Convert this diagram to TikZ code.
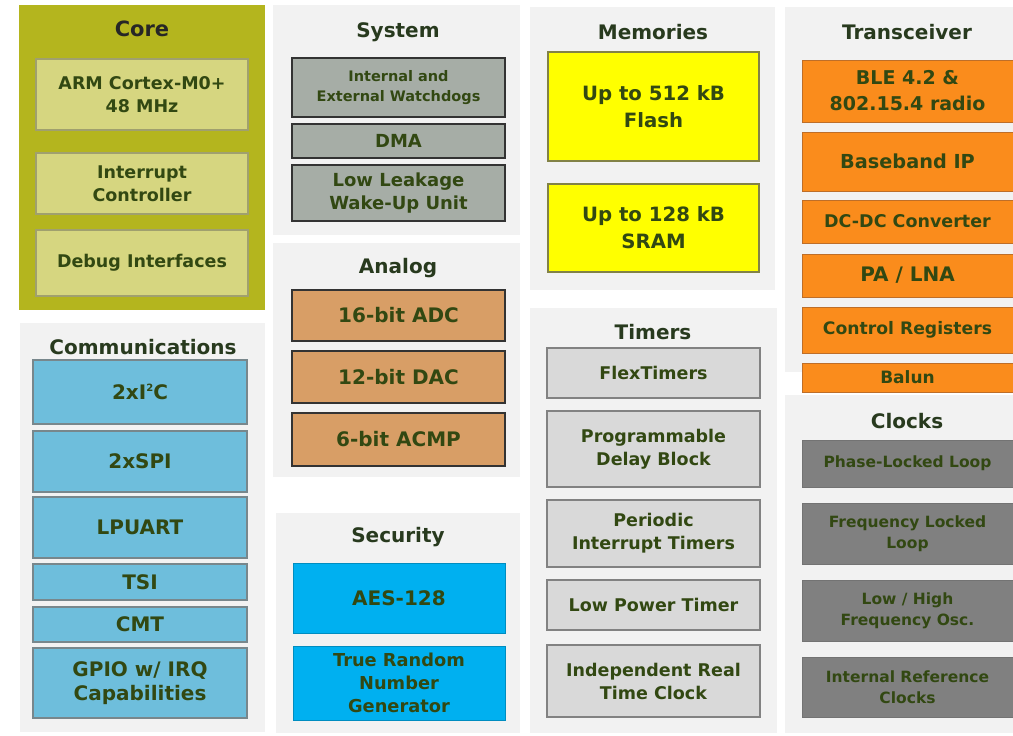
\documentclass[tikz,border=0pt]{standalone}
\usepackage{fontspec}
\setmainfont{DejaVu Sans}
\definecolor{panelbg}{RGB}{242,242,242}
\definecolor{coreolive}{RGB}{180,181,30}
\definecolor{corebox}{RGB}{214,214,128}
\definecolor{coreline}{RGB}{160,160,110}
\definecolor{sysbox}{RGB}{166,173,166}
\definecolor{memyellow}{RGB}{255,255,0}
\definecolor{memline}{RGB}{130,130,70}
\definecolor{trxorange}{RGB}{250,140,28}
\definecolor{trxline}{RGB}{190,110,40}
\definecolor{commblue}{RGB}{110,190,220}
\definecolor{commline}{RGB}{120,135,140}
\definecolor{anatan}{RGB}{216,158,102}
\definecolor{secblue}{RGB}{0,176,240}
\definecolor{timgray}{RGB}{217,217,217}
\definecolor{timline}{RGB}{130,130,130}
\definecolor{clkgray}{RGB}{128,128,128}
\definecolor{txtgreen}{RGB}{50,72,18}
\definecolor{titlegreen}{RGB}{40,58,30}
\tikzset{
  fs/.style args={#1/#2}{font=\bfseries\fontsize{#1}{#2}\selectfont},
  panelbox/.style={rectangle, draw=none, inner sep=0pt, outer sep=0pt},
  blockbase/.style={rectangle, inner sep=2pt, outer sep=0pt, align=center,
    text=txtgreen, fs=17.5/23},
  coreblk/.style={blockbase, fill=corebox, draw=coreline, line width=1.5pt},
  sysblk/.style={blockbase, fill=sysbox, draw=black!80, line width=2pt, fs=18/23},
  memblk/.style={blockbase, fill=memyellow, draw=memline, line width=1.5pt, fs=19.7/27},
  trxblk/.style={blockbase, fill=trxorange, draw=trxline, line width=1pt},
  commblk/.style={blockbase, fill=commblue, draw=commline, line width=1.5pt, fs=20/24},
  anablk/.style={blockbase, fill=anatan, draw=black!80, line width=2pt, fs=20/24},
  secblk/.style={blockbase, fill=secblue, draw=secblue!80!black, line width=0.8pt},
  timblk/.style={blockbase, fill=timgray, draw=timline, line width=1.5pt},
  clkblk/.style={blockbase, fill=clkgray, draw=clkgray!90!black, line width=0.8pt, fs=15.5/21},
  title/.style={text=titlegreen, fs=20/22}
}
% panel: name, x1, y1, x2, y2, fill
\newcommand\panel[6]{%
  \node[panelbox, fill=#6, minimum width={#4-#2}, minimum height={#5-#3}]
    (#1) at ({(#2+#4)/2},{(#3+#5)/2}) {};}
% block: style, name, x1, y1, x2, y2, text
\newcommand\blk[7]{%
  \node[#1, minimum width={#5-#3}, minimum height={#6-#4}]
    (#2) at ({(#3+#5)/2},{(#4+#6)/2}) {#7};}
% small raised digit for I2C
\newcommand\supsmall[1]{\raisebox{0.7ex}{\fontsize{10}{10}\selectfont #1}}
\begin{document}
\begin{tikzpicture}[x=1pt,y=-1pt]
\useasboundingbox[fill=white] (0,0) rectangle (1013,736);

% background panels
\panel{pCore}{19}{5}{265}{310}{coreolive}
\panel{pComm}{20}{323}{265}{732}{panelbg}
\panel{pSys}{273}{5}{520}{235}{panelbg}
\panel{pAna}{273}{243}{520}{477}{panelbg}
\panel{pSec}{276}{513}{520}{733}{panelbg}
\panel{pMem}{530}{7}{775}{290}{panelbg}
\panel{pTim}{530}{308}{777}{733}{panelbg}
\panel{pTrx}{785}{7}{1013}{372}{panelbg}
\panel{pClk}{785}{395}{1013}{733}{panelbg}

% Core
\node[title, text=black!85, fs=21/23] (tCore) at (142,29) {Core};
\blk{coreblk}{cpu}{36}{59}{248}{130}{ARM Cortex-M0+\\48 MHz}
\blk{coreblk}{irq}{36}{153}{248}{214}{Interrupt\\Controller}
\blk{coreblk}{dbg}{36}{230}{248}{296}{Debug Interfaces}

% Communications
\node[title] (tComm) at (143,347) {Communications};
\blk{commblk}{i2c}{33}{360}{247}{424}{2xI\supsmall{2}C}
\blk{commblk}{spi}{33}{431}{247}{492}{2xSPI}
\blk{commblk}{uart}{33}{497}{247}{558}{LPUART}
\blk{commblk}{tsi}{33}{564}{247}{600}{TSI}
\blk{commblk}{cmt}{33}{607}{247}{642}{CMT}
\blk{commblk}{gpio}{33}{648}{247}{718}{GPIO w/ IRQ\\Capabilities}

% System
\node[title] (tSys) at (398,32) {System};
\blk{sysblk, fs=14.5/20}{wdog}{292}{58}{505}{117}{Internal and\\External Watchdogs}
\blk{sysblk}{dma}{292}{124}{505}{158}{DMA}
\blk{sysblk}{llwu}{292}{165}{505}{221}{Low Leakage\\Wake-Up Unit}

% Analog
\node[title] (tAna) at (398,268) {Analog};
\blk{anablk}{adc}{292}{290}{505}{341}{16-bit ADC}
\blk{anablk}{dac}{292}{351}{505}{403}{12-bit DAC}
\blk{anablk}{acmp}{292}{413}{505}{466}{6-bit ACMP}

% Security
\node[title] (tSec) at (398,537) {Security};
\blk{secblk, fs=20/24}{aes}{293}{563}{505}{633}{AES-128}
\blk{secblk, fs=17.8/23}{trng}{293}{646}{505}{720}{True Random\\Number\\Generator}

% Memories
\node[title] (tMem) at (653,32) {Memories};
\blk{memblk}{flash}{548}{52}{759}{161}{Up to 512 kB\\Flash}
\blk{memblk}{sram}{548}{184}{759}{272}{Up to 128 kB\\SRAM}

% Timers
\node[title] (tTim) at (653,332) {Timers};
\blk{timblk}{ftm}{547}{348}{760}{398}{FlexTimers}
\blk{timblk}{pdb}{547}{411}{760}{487}{Programmable\\Delay Block}
\blk{timblk}{pit}{547}{500}{760}{567}{Periodic\\Interrupt Timers}
\blk{timblk}{lptmr}{547}{580}{760}{630}{Low Power Timer}
\blk{timblk}{rtc}{547}{645}{760}{717}{Independent Real\\Time Clock}

% Transceiver
\node[title] (tTrx) at (907,32) {Transceiver};
\blk{trxblk, fs=19/26}{ble}{802}{60}{1013}{122}{BLE 4.2 \&\\802.15.4 radio}
\blk{trxblk, fs=19.3/23}{bb}{802}{132}{1013}{191}{Baseband IP}
\blk{trxblk}{dcdc}{802}{200}{1013}{243}{DC-DC Converter}
\blk{trxblk, fs=20/23}{pa}{802}{254}{1013}{297}{PA / LNA}
\blk{trxblk, fs=17.2/23}{creg}{802}{307}{1013}{353}{Control Registers}
\blk{trxblk, fs=17/20}{balun}{802}{363}{1013}{392}{Balun}

% Clocks
\node[title] (tClk) at (907,421) {Clocks};
\blk{clkblk}{pll}{802}{440}{1013}{487}{Phase-Locked Loop}
\blk{clkblk}{fll}{802}{503}{1013}{564}{Frequency Locked\\Loop}
\blk{clkblk}{osc}{802}{580}{1013}{641}{Low / High\\Frequency Osc.}
\blk{clkblk}{irc}{802}{657}{1013}{717}{Internal Reference\\Clocks}
\end{tikzpicture}
\end{document}
